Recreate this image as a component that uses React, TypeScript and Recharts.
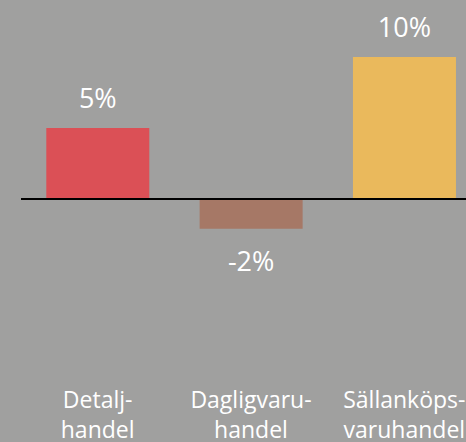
import React from "react";
import { BarChart, Bar, XAxis, YAxis, Cell, ReferenceLine, LabelList } from "recharts";

const categories = ["Detalj-\nhandel", "Dagligvaru-\nhandel", "Sällanköps-\nvaruhandel"];
const changePct = [5, -2.1, 10];
const barColors = ["#DB5056", "#A67866", "#EAB95C"];

const data = categories.map((c, i) => ({ name: c, value: changePct[i] }));

const FONT = "'Open Sans', 'Noto Sans', sans-serif";

const CategoryTick = (props: any) => {
  const { x, y, payload } = props;
  const lines = String(payload.value).split("\n");
  return (
    <text x={x} y={y} textAnchor="middle" fill="#ffffff" fontFamily={FONT} fontSize={23}>
      {lines.map((l, i) => (
        <tspan key={i} x={x} dy={i === 0 ? 31 : 30}>
          {l}
        </tspan>
      ))}
    </text>
  );
};

const ValueLabel = (props: any) => {
  const { x, y, width, height, value } = props;
  const top = Math.min(y, y + height);
  const bottom = Math.max(y, y + height);
  const cx = x + width / 2;
  const ty = value >= 0 ? top - 20 : bottom + 42;
  return (
    <text x={cx} y={ty} textAnchor="middle" fill="#ffffff" fontFamily={FONT} fontSize={27}>
      {`${Math.round(value)}%`}
    </text>
  );
};

export default function App() {
  return (
    <div
      style={{
        position: "fixed",
        left: 0,
        top: 0,
        width: 466,
        height: 442,
        overflow: "hidden",
        background: "#a0a09f",
      }}
    >
      <BarChart
        width={490}
        height={442}
        data={data}
        margin={{ top: 28.6, right: 9, bottom: 0, left: 21 }}
        barCategoryGap="16.5%"
      >
        <XAxis
          dataKey="name"
          axisLine={false}
          tickLine={false}
          height={72.6}
          interval={0}
          tick={<CategoryTick />}
        />
        <YAxis hide domain={[-12, 12]} />
        <Bar dataKey="value" isAnimationActive={false}>
          {data.map((d, i) => (
            <Cell key={i} fill={barColors[i]} />
          ))}
          <LabelList dataKey="value" content={<ValueLabel />} />
        </Bar>
        <ReferenceLine y={0} stroke="#000000" strokeWidth={2} />
      </BarChart>
    </div>
  );
}
